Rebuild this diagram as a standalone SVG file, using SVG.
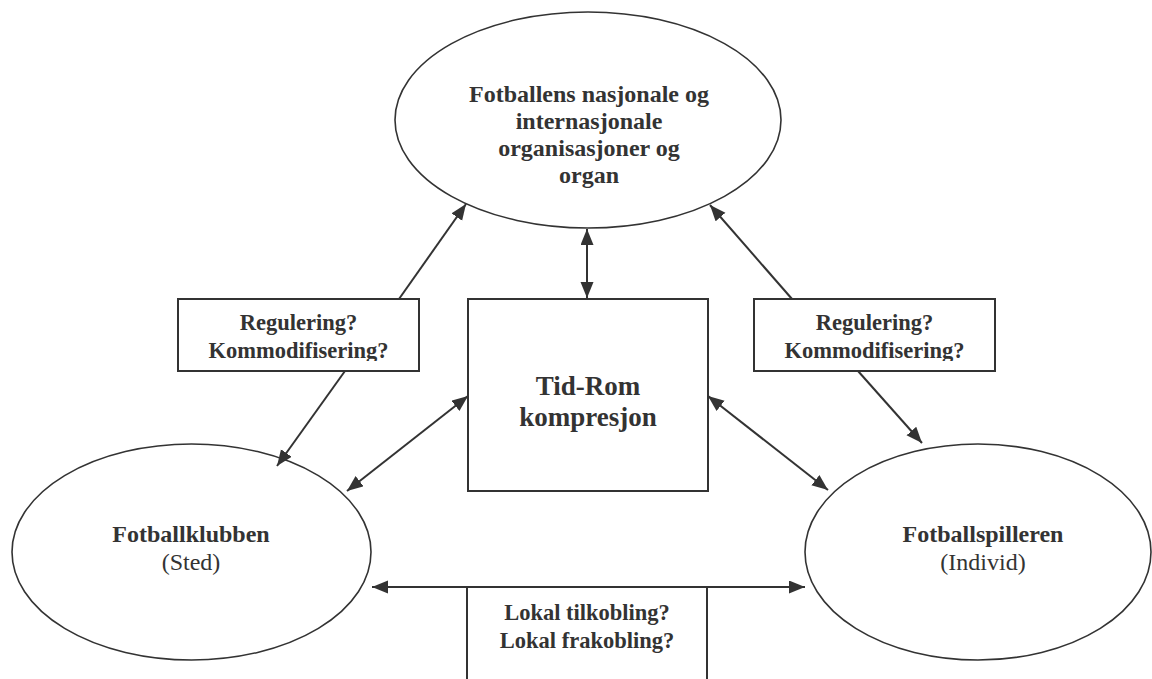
<svg xmlns="http://www.w3.org/2000/svg" width="1152" height="679" viewBox="0 0 1152 679">
<style>
.shape{fill:#fff;stroke:#333;stroke-width:1.6}
.box{fill:#fff;stroke:#333;stroke-width:2}
.conn{stroke:#333;stroke-width:2;fill:none}
text{font-family:"Liberation Serif","Times New Roman",serif;fill:#333;text-anchor:middle}
.b{font-weight:bold;font-size:24px}
.lbl{font-weight:bold;font-size:22.5px}
.big{font-weight:bold;font-size:27px}
.r{font-size:24px}
</style>
<defs>
<marker id="ah" markerUnits="userSpaceOnUse" markerWidth="18" markerHeight="14" refX="16" refY="6.5" orient="auto-start-reverse">
<path d="M0,0 L16,6.5 L0,13 z" fill="#333"/>
</marker>
<clipPath id="clipL"><rect x="178" y="299" width="241" height="62"/></clipPath>
<clipPath id="clipR"><rect x="754" y="299" width="241" height="62"/></clipPath>
</defs>
<rect width="1152" height="679" fill="#fff"/>

<g id="node-top">
<ellipse class="shape" cx="588" cy="120" rx="193" ry="108"/>
<text class="b" x="589" y="102">Fotballens nasjonale og</text>
<text class="b" x="589" y="129">internasjonale</text>
<text class="b" x="589" y="156">organisasjoner og</text>
<text class="b" x="589" y="183">organ</text>
</g>

<g id="node-club">
<ellipse class="shape" cx="191.5" cy="552" rx="179.5" ry="108"/>
<text class="b" x="191" y="542">Fotballklubben</text>
<text class="r" x="191" y="570">(Sted)</text>
</g>

<g id="node-player">
<ellipse class="shape" cx="978" cy="552" rx="173" ry="108"/>
<text class="b" x="983" y="542">Fotballspilleren</text>
<text class="r" x="983" y="570">(Individ)</text>
</g>

<g id="node-center">
<rect class="box" x="468" y="299" width="240" height="192"/>
<text class="big" x="588" y="395">Tid-Rom</text>
<text class="big" x="588" y="426">kompresjon</text>
</g>

<g id="node-reg-left">
<rect class="box" x="178" y="299" width="241" height="72"/>
<g clip-path="url(#clipL)">
<text class="lbl" x="298.5" y="330">Regulering?</text>
<text class="lbl" x="298.5" y="358">Kommodifisering?</text>
</g>
</g>

<g id="node-reg-right">
<rect class="box" x="754" y="299" width="241" height="72"/>
<g clip-path="url(#clipR)">
<text class="lbl" x="874.5" y="330">Regulering?</text>
<text class="lbl" x="874.5" y="358">Kommodifisering?</text>
</g>
</g>

<g id="node-lokal">
<rect class="box" x="467" y="587" width="240" height="110"/>
<text class="lbl" x="587" y="620">Lokal tilkobling?</text>
<text class="lbl" x="587" y="648">Lokal frakobling?</text>
</g>

<g id="connectors">
<line class="conn" x1="399" y1="299" x2="466" y2="204" marker-end="url(#ah)"/>
<line class="conn" x1="345" y1="371" x2="277" y2="466" marker-end="url(#ah)"/>
<line class="conn" x1="468" y1="396" x2="347" y2="491" marker-start="url(#ah)" marker-end="url(#ah)"/>
<line class="conn" x1="587" y1="229" x2="587" y2="298" marker-start="url(#ah)" marker-end="url(#ah)"/>
<line class="conn" x1="792" y1="299" x2="710" y2="205" marker-end="url(#ah)"/>
<line class="conn" x1="858" y1="371" x2="922" y2="443" marker-end="url(#ah)"/>
<line class="conn" x1="708" y1="396" x2="828" y2="490" marker-start="url(#ah)" marker-end="url(#ah)"/>
<line class="conn" x1="372" y1="587" x2="805" y2="587" marker-start="url(#ah)" marker-end="url(#ah)"/>
</g>
</svg>
